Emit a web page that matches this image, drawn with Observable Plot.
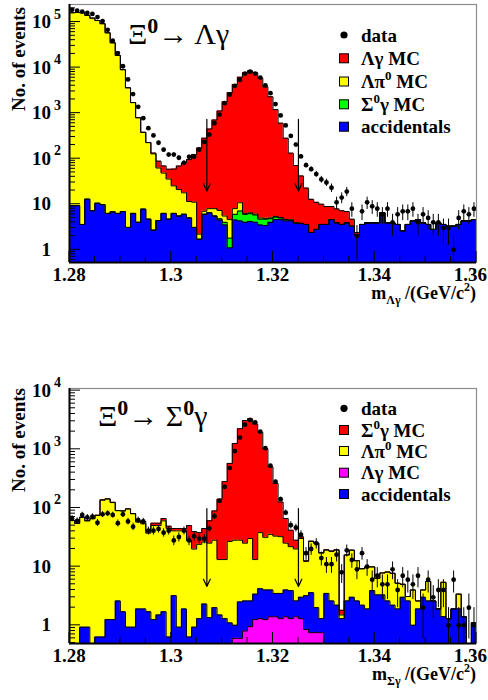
<!DOCTYPE html>
<html><head><meta charset="utf-8">
<script src="https://cdn.jsdelivr.net/npm/d3@7"></script>
<script src="https://cdn.jsdelivr.net/npm/@observablehq/plot@0.6"></script>
<style>
body{margin:0;background:#fff;}
#chart{width:488px;}
#chart svg{display:block;}
#chart svg text.rt, #chart svg text.rt tspan{font-family:"Liberation Serif","Times New Roman",Times,serif;}
</style></head><body><div id="chart"></div>
<script>
// ---- binning ----
const binLow = 1.28, binWidth = 0.001, nBins = 80;
const xTickLabels = [1.28, 1.3, 1.32, 1.34, 1.36];
const cutValues = [1.307, 1.325];

// ---- top panel: Xi0 -> Lambda gamma ----
const topData = [186000,178000,170000,158000,151000,129000,105000,67600,38900,20900,
 10700,5500,2630,1380,776,468,324,224,158,123,
 123,105,81,110,110,158,234,339,603,933,
 1660,2570,3980,5370,7410,8130,7410,6030,4070,2750,
 1580,891,537,316,204,112,72,59,46,35,
 30,23,11,14,19,8,2,7,11,9,
 8,6,8,4,6,7,7,8,4,6,
 5,4,4,3,3,1,5,7,6,8];
const topAccidentals = [9.3,9.3,3.6,12.9,7.2,10.5,9.8,6.3,6.8,6.3,
 6.9,3.1,6.3,4.0,7.8,4.7,2.7,4.4,6.3,4.7,
 6.3,5.5,6.0,5.0,3.1,1.7,6.0,6.5,5.5,4.5,
 3.5,1.1,4.5,4.3,4.0,4.2,4.0,3.5,3.4,4.0,
 4.6,4.6,4.3,4.3,3.8,3.8,3.6,2.4,2.8,3.6,
 3.6,4.6,3.9,3.6,3.9,3.3,2.1,3.6,3.9,3.9,
 3.9,6.5,3.9,3.9,3.6,2.6,3.6,4.3,4.6,3.9,
 3.6,2.8,3.9,3.6,3.3,3.3,3.6,4.3,4.3,4.6];
const topSigma0GammaMC = [0,0,0,0,0,0,0,0,0,0,
 0,0,0,0,0,0,0,0,0,0,
 0,0,0,0,0,0,0,0,0,0.3,
 0.5,0.7,1.5,2.8,2.0,2.0,1.8,1.2,1.3,0.8,
 0.6,0.4,0.3,0.2,0.1,0,0,0,0,0,
 0,0,0,0,0,0,0,0,0,0,
 0,0,0,0,0,0,0,0,0,0,
 0,0,0,0,0,0,0,0,0,0];
const topLambdaPi0MC = [160000,162000,160000,140000,122000,108000,92000,58000,35000,18500,
 9000,3600,1700,790,370,220,125,58,42,31,
 19,15.5,11.8,6.5,8,0.5,1,1.5,2.5,2.5,
 1.5,2.8,2,3.7,0.3,0.3,0.3,0.3,0.2,0.2,
 0.2,0.1,0,0,0,0,0,0,0,0,
 0,0,0,0,0,0,0,0,0,0,
 0,0,0,0,0,0,0,0,0,0,
 0,0,0,0,0,0,0,0,0,0];
const topLambdaGammaMC = [0,0,0,0,0,0,0,0,0,0,
 0,0,0,1,2,3,5,26,21,23,
 34,48,63,84,112,170,275,440,700,1110,
 1770,2810,4260,6150,7750,8500,7750,5880,3790,2280,
 1190,598,277,128,67,38,19,10.4,8.2,6.4,
 5.3,4.3,4.0,3.6,3.0,1.4,0.3,0,0,0,
 0,0,0,0,0,0,0,0,0,0,
 0,0,0,0,0,0,0,0,0,0];
const topYTicks = [1, 10, 100, 1000, 10000, 100000];

// ---- bottom panel: Xi0 -> Sigma0 gamma ----
const botData = [66,60,76,69,71,56,78,81,76,55,
 78,59,48,62,59,41,41,44,38,41,
 28,32,41,28,33,30,30,45,72,132,
 229,479,933,1585,2630,3160,2880,1995,1047,525,
 282,141,83,51,46,35,17,20,25,14,
 11,11,16,8,19,13,9,17,10,6,
 7,5,5,9,4,7,6,5,7,2,
 6,3,4,4,1,6,1,1,2,1];
const botLambdaGammaMC = [0,0,0,0,0,0,0,0,0,0,
 0,0,0,0,0,0,0,0,0,0,
 0,0,0,0,0,0,0,0,0,0,
 0,0,0.6,0.6,0.8,0.95,1.25,1.3,1.25,1.4,
 1.4,1.3,1.4,1.3,1.4,1.3,0.85,0.75,0.75,0.75,
 0,0,0,0,0,0,0,0,0,0,
 0,0,0,0,0,0,0,0,0,0,
 0,0,0,0,0,0,0,0,0,0];
const botAccidentals = [0,0,0.93,0.93,0,0.63,0.63,1.25,1.25,2.6,
 1.7,0.93,0.93,1.9,1.9,1.7,1.25,1.5,1.7,0.63,
 3.2,0.93,1.9,0.63,0.93,1.3,2.3,1.35,2.0,1.5,
 1.3,1.1,0.4,1.9,1.8,1.65,2.15,2.9,2.75,2.6,
 2.1,2.2,2.6,2.6,1.2,1.7,2.35,2.85,1.25,0.55,
 3.5,2.6,2.2,1.3,2.6,3.0,2.6,2.2,1.9,3.9,
 3.3,3.3,2.6,2.2,1.9,3.0,2.6,1.0,1.9,3.0,
 2.6,2.6,1.9,1.4,1.3,1.9,1.9,1.4,0,1.1];
const botLambdaPi0MC = [61.1,54.4,68.2,59.3,65.4,73.9,135.4,140.6,122.2,87.2,
 86.9,94.9,78.7,55.6,51.8,35.5,48.9,48.6,58.6,44,
 37.5,39.8,38.8,26.9,19,22.7,24,23.8,26.2,11.7,
 11.9,25.8,27.2,25.7,22.5,27.6,9.8,33.8,27.6,31.5,
 29.6,28.9,21.1,18,17.4,27.2,9.1,23.3,23.1,15.7,
 15.6,15.6,16.9,0.2,13.2,16.1,10,7,8,6,
 3,4.5,5.5,5.5,3.3,2,0.5,3,0.7,1,
 3,0,0,4,0,0,1.5,0,0,0];
const botSigma0GammaMC = [0.6,0.55,0.7,0.6,0.66,0.76,1.4,1.4,1.3,0.9,
 0.9,1.0,0.8,4.2,5.2,3.5,4.9,4.9,5.8,4.3,
 4,4,4,22.6,19.8,14,18.4,35.2,60.9,128,
 269,548,1231,2211,3065,3281,2679,1912,991,466,
 230,93.6,41,19.8,8.2,2.2,0.3,0.3,0.3,0.3,
 0.3,0.3,0.3,0.3,0,0,0,0,0,0,
 0,0,0,0,0,0,0,0,0,0,
 0,0,0,0,0,0,0,0,0,0];
const botYTicks = [1, 10, 100, 1000, 10000];

const FONT = "Liberation Serif";
const C = {red: "#ff0000", yellow: "#ffff00", green: "#00ff00", blue: "#0000ff", magenta: "#ff00ff"};

function richText(parent, x, y, segs, anchor, size, weight) {
  const t = parent.append("text").attr("class", "rt").attr("x", x).attr("y", y).attr("text-anchor", anchor)
    .attr("font-family", FONT).attr("font-size", size).attr("font-weight", weight).attr("fill", "black");
  let shift = 0;
  segs.forEach(s => {
    const target = s.sup ? -Math.round(size * (s.raise || 0.42)) : s.sub ? Math.round(size * 0.3) : 0;
    const sp = t.append("tspan").attr("dy", target - shift).text(s.t);
    shift = target;
    if (s.sup || s.sub) sp.attr("font-size", Math.round(size * 0.68));
    if (s.size) sp.attr("font-size", s.size);
    if (s.weight) sp.attr("font-weight", s.weight);
  });
  return t;
}

function panel(cfg) {
  const {height, marginTop, marginBottom, yDomain, layers, data, arrowY, yTicks} = cfg;
  const ymin = yDomain[0];
  const edges = d3.range(nBins).map(i => binLow + i * binWidth);
  let run = new Array(nBins).fill(0);
  const levels = layers.map(L => {
    run = run.map((c, i) => c + L.values[i]);
    const pts = [];
    run.forEach((v, i) => {
      const yv = Math.max(v, ymin);
      pts.push({x: edges[i], y: yv, y0: ymin});
      pts.push({x: edges[i] + binWidth, y: yv, y0: ymin});
    });
    return {color: L.color, pts};
  });
  const pts = data.map((n, i) => ({x: edges[i] + binWidth / 2, n,
    lo: Math.max(n - Math.sqrt(n), ymin), hi: n + Math.sqrt(n)}));
  const arrows = cutValues.map(x => ({x, y1: arrowY[0], y2: arrowY[1]}));
  const plot = Plot.plot({
    width: 488, height, marginLeft: 69, marginRight: 12, marginTop, marginBottom,
    x: {domain: [1.28, 1.36], axis: null},
    y: {type: "log", domain: yDomain, axis: null},
    style: {background: "white", fontFamily: "Liberation Serif"},
    marks: [
      ...levels.slice().reverse().map(l => Plot.areaY(l.pts, {x: "x", y1: "y0", y2: "y", fill: l.color, clip: true})),
      ...levels.map(l => Plot.line(l.pts, {x: "x", y: "y", stroke: "black", strokeWidth: 1, clip: true})),
      Plot.ruleX(pts, {x: "x", y1: "lo", y2: "hi", stroke: "black", strokeWidth: 1, clip: true}),
      Plot.dot(pts, {x: "x", y: "n", r: 2.4, fill: "black", clip: true}),
      Plot.arrow(arrows, {x1: "x", x2: "x", y1: "y1", y2: "y2", stroke: "black", strokeWidth: 1.2, headLength: 10, headAngle: 50}),
      Plot.frame({stroke: "#8c8c8c", strokeWidth: 1.2}),
      Plot.ruleX([1.28], {stroke: "black", strokeWidth: 2}),
      Plot.ruleY([ymin], {stroke: "black", strokeWidth: 2})
    ]
  });
  const svg = d3.select(plot);
  const sx = plot.scale("x"), sy = plot.scale("y");
  const X = v => sx.apply(v), Y = v => sy.apply(v);
  const bottom = height - marginBottom, left = 69;
  const g = svg.append("g").attr("stroke", "black").attr("stroke-width", 1);
  d3.range(17).forEach(k => {
    const v = 1.28 + k * 0.005, major = k % 4 === 0;
    g.append("line").attr("x1", X(v)).attr("x2", X(v)).attr("y1", bottom).attr("y2", bottom - (major ? 11 : 6));
  });
  const lo = Math.floor(Math.log10(yDomain[0])), hi = Math.ceil(Math.log10(yDomain[1]));
  for (let e = lo; e <= hi; e++) for (let m = 1; m <= 9; m++) {
    const v = m * Math.pow(10, e);
    if (v < yDomain[0] || v > yDomain[1]) continue;
    g.append("line").attr("x1", left).attr("x2", left + (m === 1 ? 11 : 6)).attr("y1", Y(v)).attr("y2", Y(v));
  }
  const lab = svg.append("g").attr("font-family", FONT);
  xTickLabels.forEach((v, i) => {
    const last = i === xTickLabels.length - 1;
    richText(lab, last ? 487 : X(v), bottom + 19, [{t: String(v)}], last ? "end" : "middle", 19, "bold");
  });
  yTicks.forEach(v => {
    const e = Math.round(Math.log10(v));
    richText(lab, 51, Y(v) + 6.5, [{t: e === 0 ? "1" : "10"}], "end", 19, "bold");
    if (e >= 2) richText(lab, 54, Y(v) - 3, [{t: String(e)}], "start", 14, "bold");
  });
  richText(lab, 0, 0, [{t: "No. of events"}], "end", 19, "bold")
    .attr("transform", `translate(25,${marginTop + cfg.yTitleOffset}) rotate(-90)`).attr("x", null).attr("y", null);
  richText(lab, 476, bottom + 37, cfg.xTitle, "end", 18, "bold");
  richText(lab, cfg.titleX, cfg.titleY, cfg.title, "start", 30, "normal");
  // legend
  cfg.legend.forEach((it, i) => {
    const ry = cfg.legendY[i];
    if (it.type === "dot") lab.append("circle").attr("cx", 344).attr("cy", ry).attr("r", 3.6).attr("fill", "black");
    else lab.append("rect").attr("x", 339.5).attr("y", ry - 4.5).attr("width", 9).attr("height", 9)
      .attr("fill", it.color).attr("stroke", "black").attr("stroke-width", 1);
    richText(lab, 361, ry + 6.5, it.label, "start", 19, "bold");
  });
  return plot;
}

const chart = document.getElementById("chart");
chart.appendChild(panel({
  height: 310, marginTop: 4, marginBottom: 48,
  yDomain: [0.526, 2.43e5], yTicks: topYTicks, yTitleOffset: 3,
  layers: [
    {values: topAccidentals, color: C.blue},
    {values: topSigma0GammaMC, color: C.green},
    {values: topLambdaPi0MC, color: C.yellow},
    {values: topLambdaGammaMC, color: C.red}
  ],
  data: topData, arrowY: [727, 19.5],
  xTitle: [{t: "m"}, {t: "Λγ", sub: true}, {t: " /(GeV/c"}, {t: "2", sup: true}, {t: ")"}],
  title: [{t: "Ξ"}, {t: "0", sup: true, weight: "bold", size: 22, raise: 0.38}, {t: "→ Λγ"}],
  titleX: 128, titleY: 44,
  legend: [
    {type: "dot", label: [{t: "data"}]},
    {color: C.red, label: [{t: "Λγ MC"}]},
    {color: C.yellow, label: [{t: "Λπ"}, {t: "0", sup: true}, {t: " MC"}]},
    {color: C.green, label: [{t: "Σ"}, {t: "0", sup: true}, {t: "γ MC"}]},
    {color: C.blue, label: [{t: "accidentals"}]}
  ],
  legendY: [35, 58.3, 81.5, 104.3, 126.7]
}));
chart.appendChild(panel({
  height: 390, marginTop: 78, marginBottom: 57,
  yDomain: [0.49, 1.087e4], yTicks: botYTicks, yTitleOffset: 0,
  layers: [
    {values: botLambdaGammaMC, color: C.magenta},
    {values: botAccidentals, color: C.blue},
    {values: botLambdaPi0MC, color: C.yellow},
    {values: botSigma0GammaMC, color: C.red}
  ],
  data: botData, arrowY: [98, 4.6],
  xTitle: [{t: "m"}, {t: "Σγ", sub: true}, {t: " /(GeV/c"}, {t: "2", sup: true}, {t: ")"}],
  title: [{t: "Ξ"}, {t: "0", sup: true, weight: "bold", size: 22, raise: 0.38}, {t: "→ Σ"}, {t: "0", sup: true, weight: "bold", size: 22, raise: 0.38}, {t: "γ"}],
  titleX: 98, titleY: 116,
  legend: [
    {type: "dot", label: [{t: "data"}]},
    {color: C.red, label: [{t: "Σ"}, {t: "0", sup: true}, {t: "γ MC"}]},
    {color: C.yellow, label: [{t: "Λπ"}, {t: "0", sup: true}, {t: " MC"}]},
    {color: C.magenta, label: [{t: "Λγ MC"}]},
    {color: C.blue, label: [{t: "accidentals"}]}
  ],
  legendY: [98.3, 120, 141, 162.7, 184]
}));
</script>
</body></html>
